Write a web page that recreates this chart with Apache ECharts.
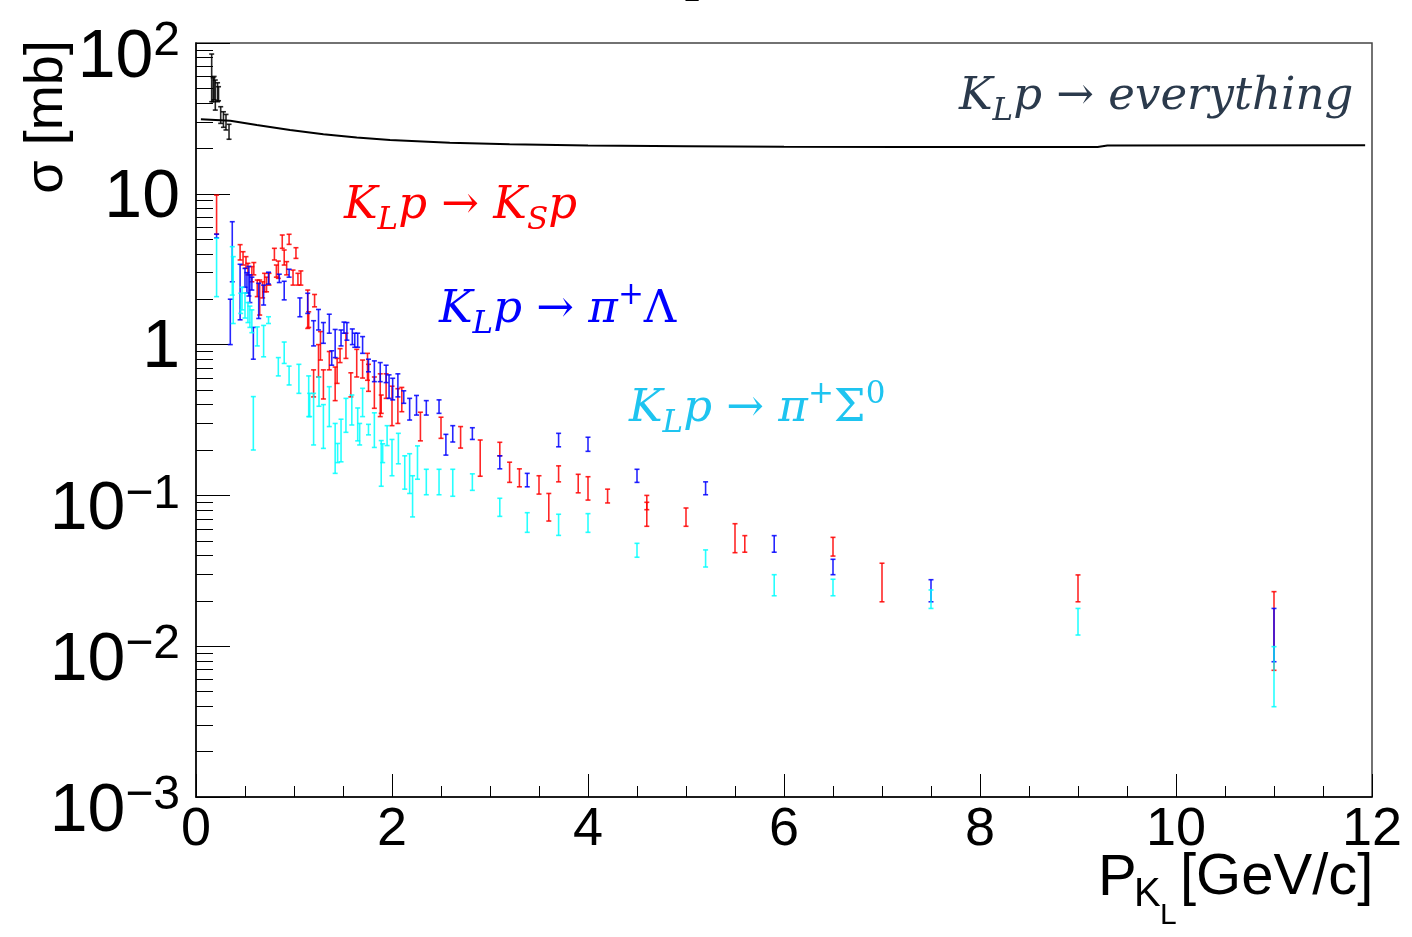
<!DOCTYPE html>
<html>
<head>
<meta charset="utf-8">
<script src="https://cdn.jsdelivr.net/npm/echarts@6/dist/echarts.min.js"></script>
<style>
html,body{margin:0;padding:0;background:#fff;}
#chart{width:1412px;height:937px;}
</style>
</head>
<body>
<div id="chart"></div>
<script>
// ---- data: [p (GeV/c), sigma_low (mb), sigma_high (mb)] ----
const totalBars = [
  [0.16, 40.8, 84.5], [0.175, 40.8, 58.9], [0.185, 42, 60], [0.197, 35.9, 56.8],
  [0.22, 40.8, 54.5], [0.23, 41.4, 51.3], [0.252, 29.3, 37.8], [0.28, 27.6, 35.0],
  [0.306, 26.5, 33.6], [0.337, 23.0, 28.9]
];
const totalX = [0.05, 0.35, 0.62, 0.96, 1.30, 1.64, 1.98, 2.59, 3.2, 4.0, 5.0, 6.0, 7.2, 9.2, 9.3, 11.93];
const totalY = [31.2, 30.5, 28.6, 26.5, 24.8, 23.6, 22.7, 21.8, 21.3, 20.9, 20.7, 20.5, 20.4, 20.4, 20.9, 21.0];

const ksBars = [
  [0.21, 5.4, 9.8], [0.45, 3.64, 4.6], [0.48, 3.37, 4.13], [0.51, 3.21, 3.83],
  [0.53, 2.90, 3.46], [0.57, 2.61, 3.29], [0.59, 2.90, 3.50], [0.625, 2.08, 2.68],
  [0.65, 1.57, 2.68], [0.68, 2.04, 2.61], [0.70, 2.24, 2.97], [0.72, 2.24, 2.80],
  [0.745, 2.48, 2.97], [0.80, 3.64, 4.35], [0.82, 2.80, 3.37], [0.84, 2.75, 3.58],
  [0.88, 4.35, 5.33], [0.90, 3.37, 4.24], [0.925, 2.90, 3.55], [0.95, 4.62, 5.39],
  [0.99, 2.48, 3.12], [1.02, 3.73, 4.39], [1.04, 2.48, 2.97], [1.07, 2.48, 3.08],
  [1.14, 1.28, 2.30], [1.15, 1.30, 1.65], [1.21, 1.78, 2.15], [1.20, 0.45, 0.68],
  [1.25, 0.61, 1.00], [1.27, 0.79, 1.22], [1.30, 0.436, 0.68], [1.36, 0.68, 0.90],
  [1.42, 0.425, 0.71], [1.44, 0.553, 0.81], [1.47, 0.76, 0.94], [1.53, 0.81, 1.19],
  [1.58, 0.45, 0.65], [1.64, 0.61, 0.93], [1.70, 0.60, 0.79], [1.75, 0.58, 0.875],
  [1.76, 0.49, 0.74], [1.82, 0.378, 0.61], [1.88, 0.333, 0.64], [1.89, 0.35, 0.463],
  [1.94, 0.44, 0.64], [2.00, 0.29, 0.53], [2.06, 0.30, 0.51], [2.10, 0.359, 0.52],
  [2.29, 0.230, 0.356], [2.50, 0.239, 0.330], [2.70, 0.206, 0.286], [2.90, 0.134, 0.233],
  [3.10, 0.183, 0.225], [3.20, 0.122, 0.166], [3.30, 0.114, 0.150], [3.50, 0.102, 0.135],
  [3.60, 0.0676, 0.103], [3.70, 0.123, 0.157], [3.90, 0.104, 0.138], [4.00, 0.0931, 0.133],
  [4.20, 0.0891, 0.110], [4.60, 0.0804, 0.100], [4.60, 0.0624, 0.0900], [5.00, 0.0624, 0.0825],
  [5.50, 0.0417, 0.0649], [5.60, 0.0420, 0.0541], [6.50, 0.0396, 0.0527], [7.00, 0.0197, 0.0355],
  [9.00, 0.0197, 0.0297], [11.0, 0.00692, 0.0230]
];

const lambdaBars = [
  [0.21, 5.1, 5.4], [0.35, 1.0, 2.0], [0.37, 2.61, 6.53], [0.45, 1.46, 3.41],
  [0.50, 2.4, 3.2], [0.52, 2.2, 3.0], [0.54, 2.1, 3.3], [0.55, 1.9, 2.9],
  [0.57, 2.3, 2.8], [0.585, 0.80, 1.30], [0.64, 1.49, 2.55], [0.69, 1.83, 2.48],
  [0.74, 2.52, 3.02], [0.85, 2.58, 2.93], [0.90, 1.98, 2.63], [0.95, 2.80, 3.16],
  [1.06, 1.53, 2.04], [1.14, 1.61, 2.19], [1.20, 0.98, 1.44], [1.25, 1.25, 1.71],
  [1.30, 1.02, 1.40], [1.36, 1.19, 1.59], [1.385, 0.73, 0.91], [1.42, 0.82, 1.26],
  [1.48, 0.98, 1.25], [1.51, 1.19, 1.41], [1.54, 1.07, 1.40], [1.595, 1.00, 1.27],
  [1.62, 0.96, 1.19], [1.65, 0.96, 1.19], [1.70, 0.875, 1.13], [1.76, 0.66, 0.80],
  [1.82, 0.568, 0.78], [1.88, 0.568, 0.76], [1.94, 0.56, 0.73], [1.97, 0.44, 0.63],
  [2.007, 0.43, 0.598], [2.06, 0.45, 0.64], [2.12, 0.408, 0.494], [2.18, 0.316, 0.44],
  [2.25, 0.341, 0.46], [2.35, 0.341, 0.425], [2.48, 0.350, 0.43], [2.55, 0.185, 0.254],
  [2.62, 0.226, 0.290], [2.82, 0.235, 0.281], [3.10, 0.150, 0.183], [3.38, 0.114, 0.140],
  [3.70, 0.210, 0.258], [4.00, 0.196, 0.243], [4.50, 0.122, 0.149], [5.20, 0.101, 0.123],
  [5.90, 0.0420, 0.0541], [6.50, 0.0298, 0.0377], [7.50, 0.0197, 0.0276], [11.0, 0.00789, 0.0178]
];

const sigmaBars = [
  [0.21, 2.08, 5.07], [0.37, 2.13, 4.46], [0.38, 1.38, 3.83], [0.456, 1.61, 2.19],
  [0.47, 1.7, 2.4], [0.50, 1.5, 2.2], [0.53, 1.4, 1.9], [0.55, 1.3, 1.8],
  [0.57, 1.2, 1.7], [0.585, 0.200, 0.452], [0.625, 0.98, 1.31], [0.69, 0.83, 1.34],
  [0.74, 1.38, 1.53], [0.84, 0.62, 0.82], [0.90, 0.75, 1.04], [0.95, 0.54, 0.72],
  [1.05, 0.475, 0.74], [1.15, 0.333, 0.62], [1.16, 0.333, 0.475], [1.20, 0.216, 0.475],
  [1.255, 0.39, 0.61], [1.30, 0.205, 0.40], [1.36, 0.286, 0.526], [1.42, 0.140, 0.30],
  [1.445, 0.165, 0.221], [1.48, 0.167, 0.32], [1.53, 0.262, 0.44], [1.59, 0.293, 0.463],
  [1.65, 0.23, 0.38], [1.67, 0.216, 0.30], [1.70, 0.333, 0.513], [1.76, 0.252, 0.296],
  [1.82, 0.208, 0.353], [1.89, 0.115, 0.231], [1.905, 0.165, 0.22], [1.95, 0.214, 0.29],
  [2.00, 0.135, 0.235], [2.065, 0.162, 0.258], [2.13, 0.110, 0.183], [2.18, 0.103, 0.189],
  [2.21, 0.072, 0.135], [2.26, 0.128, 0.213], [2.35, 0.101, 0.149], [2.48, 0.101, 0.149],
  [2.62, 0.0987, 0.149], [2.82, 0.108, 0.139], [3.10, 0.0726, 0.0957], [3.38, 0.0569, 0.0768],
  [3.70, 0.0543, 0.0750], [4.00, 0.0569, 0.0757], [4.50, 0.0389, 0.0481], [5.20, 0.0335, 0.0435],
  [5.90, 0.0216, 0.0298], [6.50, 0.0216, 0.0278], [7.50, 0.0178, 0.0236], [9.00, 0.01186, 0.0178],
  [11.0, 0.00397, 0.00993]
];

// ---- tick labels ----
const yTickValues = [0.001, 0.01, 0.1, 1, 10, 100];
const yTickBase   = ['10', '10', '10', '1', '10', '10'];
const yTickExp    = ['−3', '−2', '−1', '', '', '2'];
const yMinorTicks = [];
[0.001, 0.01, 0.1, 1, 10].forEach(d => { for (let k = 2; k <= 9; k++) yMinorTicks.push(+(d * k).toPrecision(3)); });

const chart = echarts.init(document.getElementById('chart'));

function errRender(params, api) {
  const x = api.value(0), lo = api.value(1), hi = api.value(2);
  const p1 = api.coord([x, hi]);
  const p2 = api.coord([x, lo]);
  const c = 2.5;
  const st = { stroke: api.visual('color'), lineWidth: 1.6, opacity: 0.85 };
  return {
    type: 'group',
    children: [
      { type: 'line', shape: { x1: p1[0], y1: p1[1], x2: p2[0], y2: p2[1] }, style: st },
      { type: 'line', shape: { x1: p1[0] - c, y1: p1[1], x2: p1[0] + c, y2: p1[1] }, style: st },
      { type: 'line', shape: { x1: p2[0] - c, y1: p2[1], x2: p2[0] + c, y2: p2[1] }, style: st }
    ]
  };
}

function errSeries(name, data, color) {
  return {
    name, type: 'custom', data, renderItem: errRender,
    encode: { x: 0, y: [1, 2] }, itemStyle: { color }, clip: true, z: 3
  };
}

const SANS = 'Liberation Sans, Arial, Helvetica, sans-serif';
const SERIF = 'DejaVu Serif, serif';

function reactionText(parts, color, x, y) {
  return {
    type: 'text', left: x, top: y, z: 10,
    style: {
      text: parts, fill: color,
      font: 'italic 45px ' + SERIF,
      rich: {
        i: { fontSize: 45, fontStyle: 'italic', fontFamily: SERIF, lineHeight: 60, fill: color },
        u: { fontSize: 45, fontStyle: 'normal', fontFamily: SERIF, lineHeight: 60, fill: color },
        sub: { fontSize: 31, fontStyle: 'italic', fontFamily: SERIF, lineHeight: 31, verticalAlign: 'bottom', fill: color },
        sup: { fontSize: 31, fontStyle: 'normal', fontFamily: SERIF, lineHeight: 31, verticalAlign: 'top', fill: color }
      }
    }
  };
}

const option = {
  backgroundColor: '#fff',
  animation: false,
  grid: {
    left: 196, top: 43, width: 1176, height: 754,
    show: true, borderColor: '#444', borderWidth: 1.5, backgroundColor: 'transparent',
    containLabel: false, outerBoundsMode: 'none'
  },
  xAxis: [{
    type: 'value', min: 0, max: 12, interval: 2,
    axisLine: { show: true, onZero: false, lineStyle: { color: '#000', width: 1.5 } },
    axisTick: { show: true, inside: true, length: 23, lineStyle: { color: '#000', width: 1 } },
    minorTick: { show: true, splitNumber: 4, length: 11, lineStyle: { color: '#000', width: 1 } },
    splitLine: { show: false },
    axisLabel: { fontFamily: SANS, fontSize: 54, color: '#000', margin: 6 }
  }],
  yAxis: [{
    type: 'log', logBase: 10, min: 0.001, max: 100,
    axisLine: { show: true, lineStyle: { color: '#000', width: 1.5 } },
    axisTick: { show: true, inside: true, length: 34, lineStyle: { color: '#000', width: 1 } },
    splitLine: { show: false },
    axisLabel: {
      margin: 16, color: '#000',
      formatter: function (v) {
        let idx = -1;
        yTickValues.forEach((t, i) => { if (Math.abs(Math.log10(v) - Math.log10(t)) < 1e-6) idx = i; });
        if (idx < 0) return '';
        if (yTickExp[idx] === '') return '{c|' + yTickBase[idx] + '}';
        return '{b|' + yTickBase[idx] + '}{s|' + yTickExp[idx] + '}';
      },
      rich: {
        c: { fontFamily: SANS, fontSize: 68, lineHeight: 68, padding: [8, 0, 0, 0], color: '#000' },
        b: { fontFamily: SANS, fontSize: 68, lineHeight: 68, padding: [30, 0, 0, 0], color: '#000' },
        s: { fontFamily: SANS, fontSize: 48, lineHeight: 48, padding: [9, 0, 0, 0], verticalAlign: 'top', color: '#000' }
      }
    }
  }, {
    type: 'log', logBase: 10, min: 0.001, max: 100, position: 'left',
    axisLine: { show: false },
    axisTick: { show: true, inside: true, length: 17, customValues: yMinorTicks, lineStyle: { color: '#000', width: 1 } },
    axisLabel: { show: false },
    splitLine: { show: false }
  }],
  series: [
    {
      name: 'total', type: 'line', showSymbol: false, symbol: 'none',
      data: totalX.map((x, i) => [x, totalY[i]]),
      lineStyle: { color: '#000', width: 2 }, z: 2
    },
    errSeries('total bars', totalBars, '#000000'),
    errSeries('KS p', ksBars, '#ff0000'),
    errSeries('pi+ Lambda', lambdaBars, '#0000ff'),
    errSeries('pi+ Sigma0', sigmaBars, '#00ffff')
  ],
  graphic: [
    { type: 'text', left: 683, top: -22, style: { text: 'L', font: '30px ' + SANS, fill: '#000' } },
    reactionText('{i|K}{sub|L}{i|p} {u|→} {i|everything}', '#2b3a4c', 959, 75),
    reactionText('{i|K}{sub|L}{i|p} {u|→} {i|K}{sub|S}{i|p}', '#ff0000', 344, 184),
    reactionText('{i|K}{sub|L}{i|p} {u|→} {i|π}{sup|+}{u|Λ}', '#0000ff', 439, 280),
    reactionText('{i|K}{sub|L}{i|p} {u|→} {i|π}{sup|+}{u|Σ}{sup|0}', '#1ec4f0', 629, 379),
    {
      type: 'text', x: 47, y: 117, rotation: Math.PI / 2, z: 10,
      style: { text: 'σ [mb]', font: '54px ' + SANS, fill: '#000', align: 'center', verticalAlign: 'middle' }
    },
    { type: 'text', left: 1098, top: 850, style: { text: 'P', font: '58px ' + SANS, fill: '#000' } },
    { type: 'text', left: 1134, top: 875, style: { text: 'K', font: '40px ' + SANS, fill: '#000' } },
    { type: 'text', left: 1160, top: 901, style: { text: 'L', font: '30px ' + SANS, fill: '#000' } },
    { type: 'text', left: 1180, top: 849, style: { text: '[GeV/c]', font: '58px ' + SANS, fill: '#000' } }
  ]
};
chart.setOption(option);
</script>
</body>
</html>
